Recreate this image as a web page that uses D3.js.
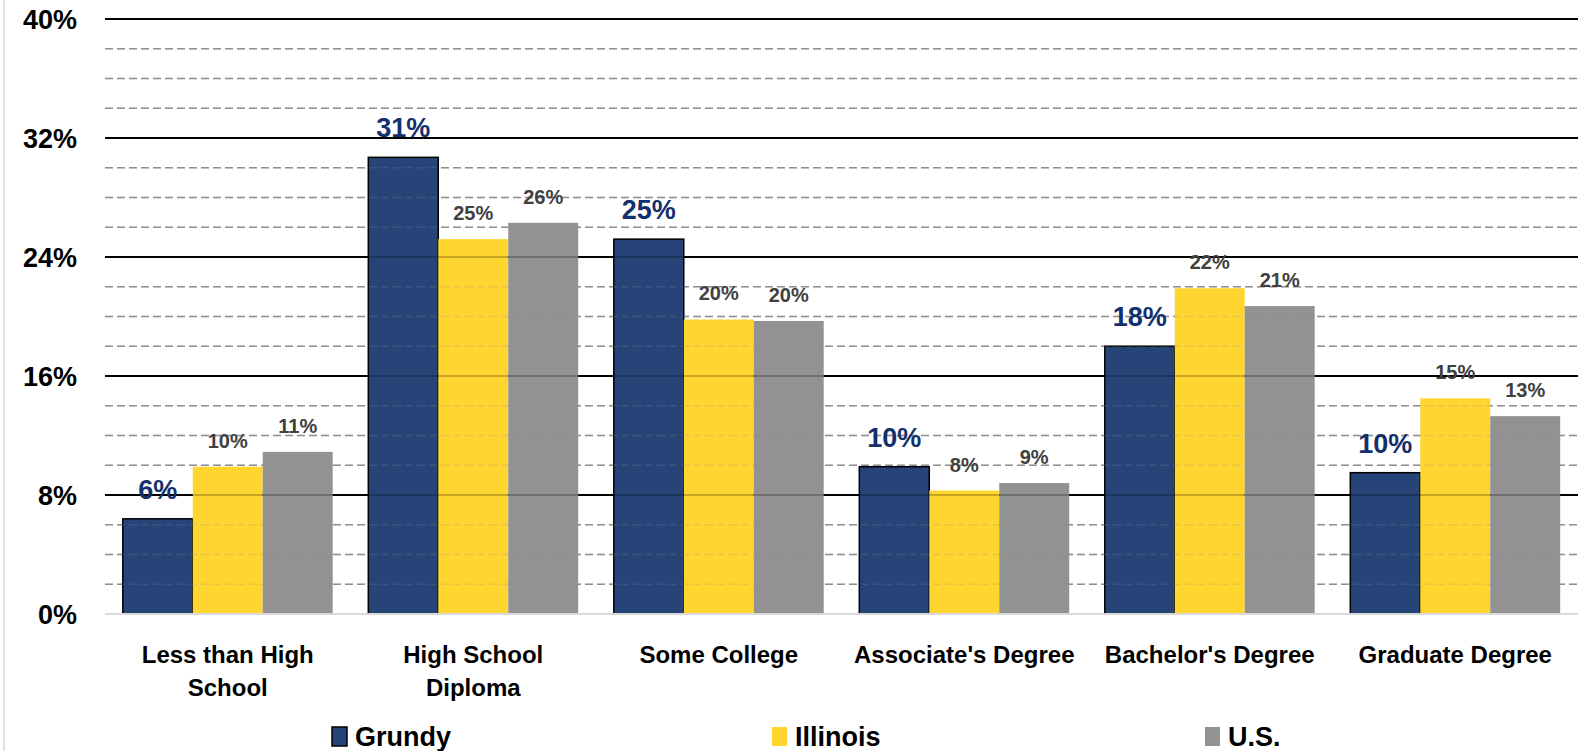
<!DOCTYPE html>
<html>
<head>
<meta charset="utf-8">
<style>
  body { margin: 0; background: #fff; }
  svg text { font-family: "Liberation Sans", Arial, sans-serif; font-weight: bold; }
</style>
</head>
<body>
<div id="chart"></div>
<script src="https://cdnjs.cloudflare.com/ajax/libs/d3/7.8.5/d3.min.js"></script>
<script>
var categories = [["Less than High", "School"], ["High School", "Diploma"], ["Some College"],
                  ["Associate's Degree"], ["Bachelor's Degree"], ["Graduate Degree"]];
var seriesNames = ["Grundy", "Illinois", "U.S."];
var grundy   = [6.4, 30.7, 25.2, 9.9, 18.0, 9.5];
var illinois = [9.9, 25.2, 19.8, 8.3, 21.9, 14.5];
var us       = [10.9, 26.3, 19.7, 8.8, 20.7, 13.3];
var grundyLabels   = ["6%", "31%", "25%", "10%", "18%", "10%"];
var illinoisLabels = ["10%", "25%", "20%", "8%", "22%", "15%"];
var usLabels       = ["11%", "26%", "20%", "9%", "21%", "13%"];
var majorTicks = [0, 8, 16, 24, 32, 40];
var minorTicks = [2, 4, 6, 10, 12, 14, 18, 20, 22, 26, 28, 30, 34, 36, 38];

(function () {
  var w = 1587, h = 751;
  var plotLeft = 105, plotRight = 1578, plotTop = 19, plotBottom = 614;
  var colors = ["#264478", "#FFD530", "#929292"];
  var series = [grundy, illinois, us];
  var labels = [grundyLabels, illinoisLabels, usLabels];

  var svg = d3.select("#chart").append("svg").attr("width", w).attr("height", h);

  var x = d3.scaleBand().domain(d3.range(categories.length)).range([plotLeft, plotRight])
    .paddingInner(0.145).paddingOuter(0.0725);
  var xs = d3.scaleBand().domain(d3.range(3)).range([0, x.bandwidth()]);
  var y = d3.scaleLinear().domain([0, 40]).range([plotBottom, plotTop]);

  // left frame edge
  svg.append("line").attr("x1", 4).attr("x2", 4).attr("y1", 0).attr("y2", h)
    .attr("stroke", "#d9d9d9").attr("stroke-width", 1.5);

  function drawGrid(g, op) {
    g.selectAll(".minor").data(minorTicks).enter().append("line")
      .attr("x1", plotLeft).attr("x2", plotRight)
      .attr("y1", function (d) { return y(d); }).attr("y2", function (d) { return y(d); })
      .attr("stroke", "#8f8f8f").attr("stroke-width", 1.6).attr("stroke-dasharray", "8,4")
      .attr("opacity", op);
    g.selectAll(".major").data(majorTicks.filter(function (d) { return d > 0; })).enter().append("line")
      .attr("x1", plotLeft).attr("x2", plotRight)
      .attr("y1", function (d) { return y(d); }).attr("y2", function (d) { return y(d); })
      .attr("stroke", "#000").attr("stroke-width", 2).attr("opacity", op);
  }
  drawGrid(svg.append("g"), 1);

  // y tick labels
  svg.selectAll(".ytick").data(majorTicks).enter().append("text")
    .attr("x", 77).attr("y", function (d) { return y(d) + 9.5; })
    .attr("text-anchor", "end").attr("font-size", 27).attr("fill", "#000")
    .text(function (d) { return d + "%"; });

  // bars
  series.forEach(function (vals, s) {
    svg.append("g").selectAll("rect").data(vals).enter().append("rect")
      .attr("x", function (d, i) { return x(i) + xs(s); })
      .attr("y", function (d) { return y(d); })
      .attr("width", xs.bandwidth())
      .attr("height", function (d) { return plotBottom - y(d); })
      .attr("fill", colors[s])
      .attr("stroke", s === 0 ? "#000" : "none")
      .attr("stroke-width", 1.5);
  });

  // grid showing faintly over bars
  drawGrid(svg.append("g"), 0.22);

  // baseline
  svg.append("line").attr("x1", plotLeft).attr("x2", plotRight).attr("y1", plotBottom).attr("y2", plotBottom)
    .attr("stroke", "#d9d9d9").attr("stroke-width", 2);

  // data labels
  series.forEach(function (vals, s) {
    svg.append("g").selectAll("text").data(vals).enter().append("text")
      .attr("x", function (d, i) { return x(i) + xs(s) + xs.bandwidth() / 2; })
      .attr("y", function (d) { return y(d) - (s === 0 ? 20 : 19); })
      .attr("text-anchor", "middle")
      .attr("font-size", s === 0 ? 27 : 20)
      .attr("fill", s === 0 ? "#14306C" : "#404040")
      .text(function (d, i) { return labels[s][i]; });
  });

  // category labels
  categories.forEach(function (lines, i) {
    lines.forEach(function (t, j) {
      svg.append("text")
        .attr("x", x(i) + x.bandwidth() / 2).attr("y", 663 + j * 33)
        .attr("text-anchor", "middle").attr("font-size", 24).attr("fill", "#000")
        .text(t);
    });
  });

  // legend
  var legendX = [332, 772, 1205];
  seriesNames.forEach(function (n, s) {
    svg.append("rect").attr("x", legendX[s]).attr("y", 727).attr("width", 15).attr("height", 19)
      .attr("fill", colors[s]).attr("stroke", s === 0 ? "#000" : "none").attr("stroke-width", 1.5);
    svg.append("text").attr("x", legendX[s] + 23).attr("y", 746)
      .attr("font-size", 27).attr("fill", "#000").text(n);
  });
})();
</script>
</body>
</html>
